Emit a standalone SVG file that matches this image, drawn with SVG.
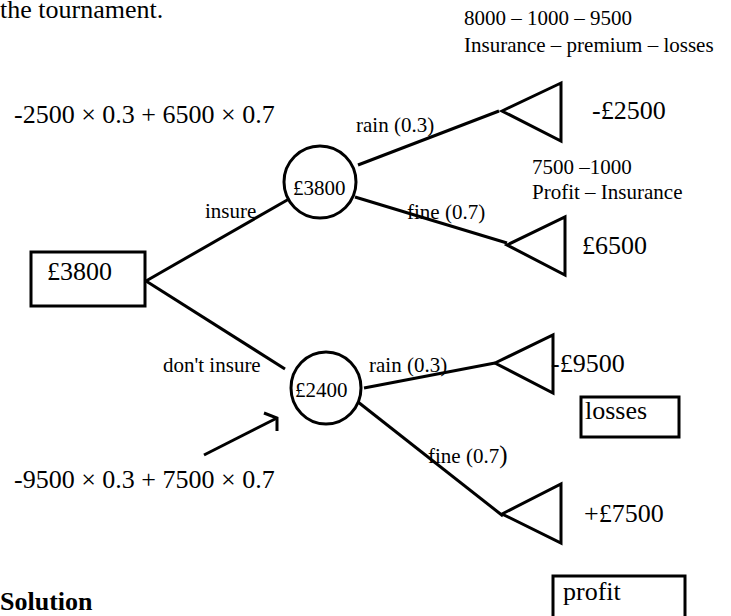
<svg xmlns="http://www.w3.org/2000/svg" width="731" height="616" viewBox="0 0 731 616">
<style>
text{font-family:"Liberation Serif","Times New Roman",serif;fill:#000}
.big{font-size:26px}
.sm{font-size:21px}
.b{font-weight:bold}
.shape{fill:none;stroke:#000;stroke-width:3}
.conn line,.conn polyline{stroke:#000;stroke-width:3;fill:none}
</style>
<rect width="731" height="616" fill="#fff"/>
<g id="captions">
<text class="big" x="0" y="18">the tournament.</text>
<text class="sm" x="464" y="25">8000 – 1000 – 9500</text>
<text class="sm" x="464" y="52">Insurance – premium – losses</text>
<text class="big" x="14" y="123">-2500 × 0.3 + 6500 × 0.7</text>
<text class="sm" x="532" y="174">7500 –1000</text>
<text class="sm" x="532" y="199">Profit – Insurance</text>
<text class="big" x="14" y="488">-9500 × 0.3 + 7500 × 0.7</text>
<text class="big b" x="0" y="610">Solution</text>
</g>
<g class="conn" id="connectors">
<line x1="146" y1="281" x2="289" y2="199"/>
<line x1="146" y1="281" x2="285" y2="369"/>
<line x1="358" y1="165" x2="499" y2="111"/>
<line x1="355" y1="197" x2="507" y2="243"/>
<line x1="364" y1="388" x2="495" y2="363"/>
<line x1="358" y1="402" x2="503" y2="516"/>
<line x1="204" y1="455" x2="277" y2="418"/>
<polyline points="264,413 277,418 277,431"/>
</g>
<g id="conn-labels">
<text class="sm" x="205" y="218">insure</text>
<text class="sm" x="163" y="372">don't insure</text>
<text class="sm" x="356" y="132">rain (0.3)</text>
<text class="sm" x="407" y="219">fine (0.7)</text>
<text class="sm" x="369" y="372">rain (0.3)</text>
<text class="sm" x="428" y="463">fine (0.7<tspan font-size="25">)</tspan></text>
</g>
<g id="decision">
<rect class="shape" x="31" y="252" width="114" height="54"/>
<text class="big" x="47" y="280">£3800</text>
</g>
<g id="chance-insure">
<ellipse class="shape" cx="320" cy="182" rx="36" ry="36"/>
<text class="sm" x="293" y="195">£3800</text>
</g>
<g id="chance-noinsure">
<ellipse class="shape" cx="326" cy="388" rx="35" ry="36"/>
<text class="sm" x="295" y="397">£2400</text>
</g>
<g id="end-insure-rain">
<polygon class="shape" points="502,111 561,83 561,141"/>
<text class="big" x="592" y="119">-£2500</text>
</g>
<g id="end-insure-fine">
<polygon class="shape" points="507,245 565,217 565,275"/>
<text class="big" x="582" y="254">£6500</text>
</g>
<g id="end-noinsure-rain">
<polygon class="shape" points="495,363 553,335 553,393"/>
<text class="big" x="551" y="372">-£9500</text>
</g>
<g id="end-noinsure-fine">
<polygon class="shape" points="502,514 561,484 561,543"/>
<text class="big" x="584" y="522">+£7500</text>
</g>
<g id="losses">
<rect class="shape" x="581" y="397" width="98" height="40"/>
<text class="big" x="585" y="419">losses</text>
</g>
<g id="profit">
<rect class="shape" x="553" y="576" width="132" height="50"/>
<text class="big" x="563" y="600">profit</text>
</g>
</svg>
